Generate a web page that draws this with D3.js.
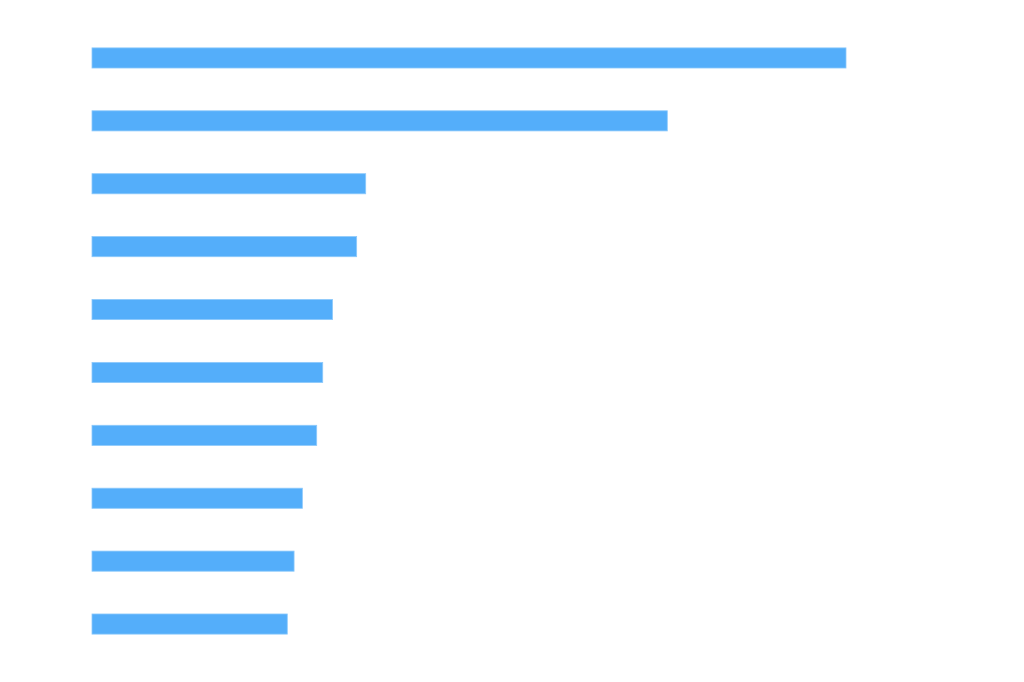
<!DOCTYPE html>
<html>
<head>
<meta charset="utf-8">
<script src="https://cdn.jsdelivr.net/npm/d3@7"></script>
<style>
  html, body { margin: 0; padding: 0; background: #fff; }
  #chart { width: 1024px; height: 682px; }
</style>
</head>
<body>
<div id="chart"></div>
<script>
// categories (not labelled in the picture) and their values
const categories = ['A', 'B', 'C', 'D', 'E', 'F', 'G', 'H', 'I', 'J'];
const values = [100, 76.3, 36.3, 35.1, 31.9, 30.6, 29.8, 27.9, 26.8, 25.9];

const width = 1024;
const height = 682;
const margin = { top: 26.5, right: 178, bottom: 26.5, left: 92 };

const svg = d3.select('#chart')
  .append('svg')
  .attr('width', width)
  .attr('height', height);

const x = d3.scaleLinear()
  .domain([0, 100])
  .range([margin.left, width - margin.right]);

const y = d3.scaleBand()
  .domain(categories)
  .range([margin.top, height - margin.bottom])
  .paddingInner(0.68)
  .paddingOuter(0.34);

svg.selectAll('.bar')
  .data(categories.map((c, i) => ({ category: c, value: values[i] })))
  .enter().append('rect')
  .attr('class', 'bar')
  .attr('x', x(0))
  .attr('y', d => y(d.category))
  .attr('width', d => x(d.value) - x(0))
  .attr('height', y.bandwidth())
  .attr('fill', '#54aefa')
  .attr('stroke', '#8dc9fb')
  .attr('stroke-width', 0.8);
</script>
</body>
</html>
